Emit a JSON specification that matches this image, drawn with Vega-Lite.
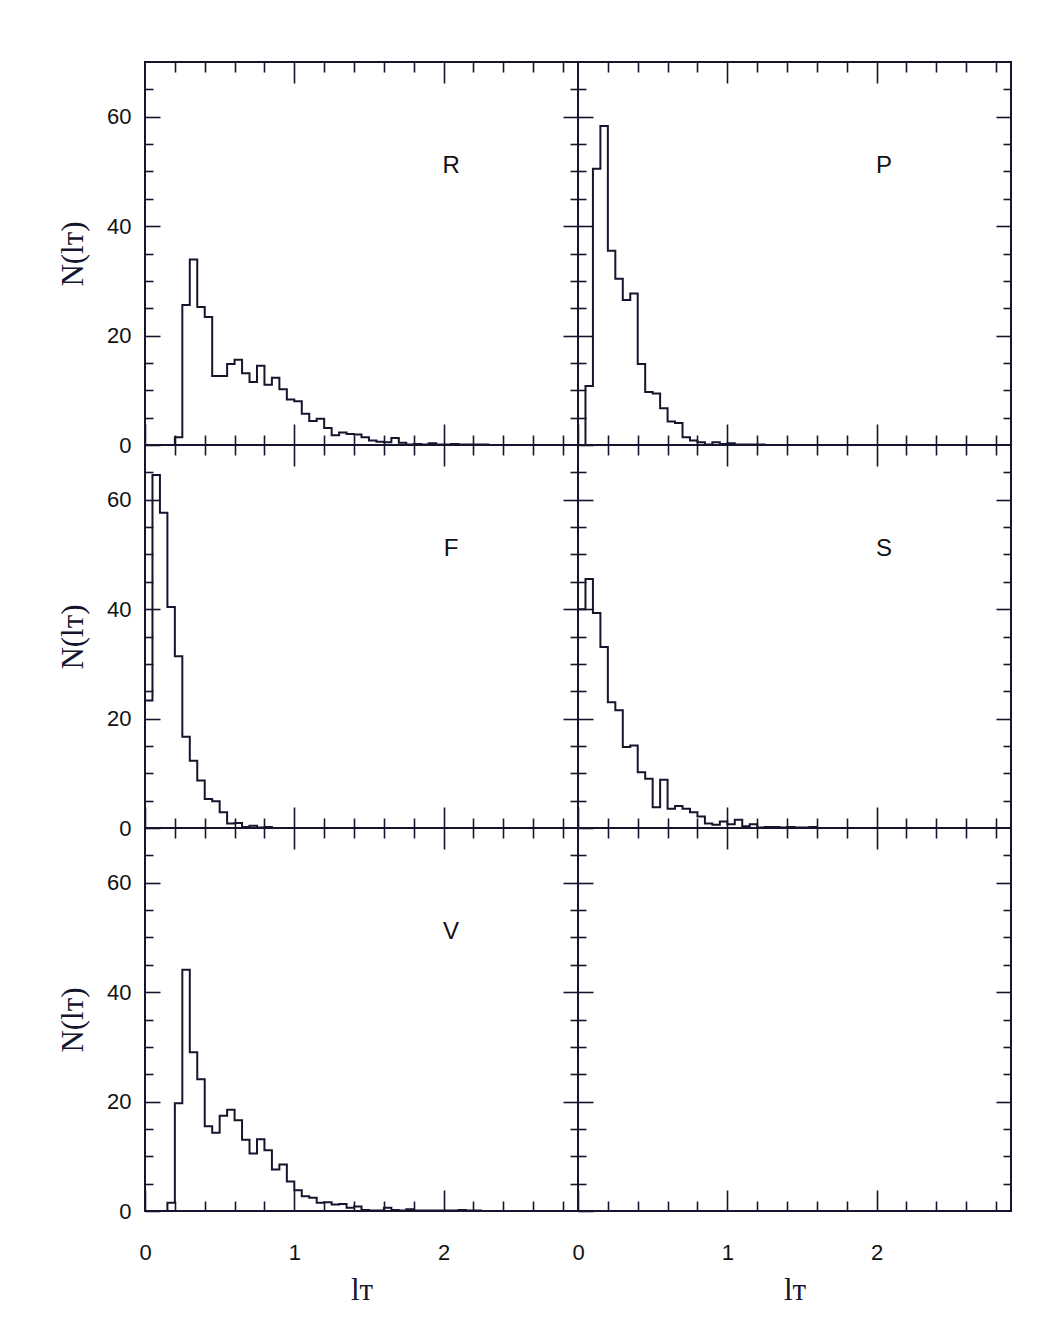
{
  "$schema": "https://vega.github.io/schema/vega-lite/v6.json",
  "background": "white",
  "padding": {"left": 56, "top": 60, "right": 30, "bottom": 30},
  "autosize": {"type": "pad"},
  "datasets": {
    "hist": [
      {"panel": "R", "x": 0.15, "n": 0}, {"panel": "R", "x": 0.2, "n": 1.4}, {"panel": "R", "x": 0.25, "n": 25.6}, {"panel": "R", "x": 0.3, "n": 33.9},
      {"panel": "R", "x": 0.35, "n": 25.2}, {"panel": "R", "x": 0.4, "n": 23.4}, {"panel": "R", "x": 0.45, "n": 12.6}, {"panel": "R", "x": 0.5, "n": 12.6},
      {"panel": "R", "x": 0.55, "n": 14.8}, {"panel": "R", "x": 0.6, "n": 15.6}, {"panel": "R", "x": 0.65, "n": 13.1}, {"panel": "R", "x": 0.7, "n": 11.5},
      {"panel": "R", "x": 0.75, "n": 14.5}, {"panel": "R", "x": 0.8, "n": 11.0}, {"panel": "R", "x": 0.85, "n": 12.3}, {"panel": "R", "x": 0.9, "n": 10.2},
      {"panel": "R", "x": 0.95, "n": 8.3}, {"panel": "R", "x": 1.0, "n": 8.0}, {"panel": "R", "x": 1.05, "n": 5.7}, {"panel": "R", "x": 1.1, "n": 4.4},
      {"panel": "R", "x": 1.15, "n": 4.8}, {"panel": "R", "x": 1.2, "n": 3.1}, {"panel": "R", "x": 1.25, "n": 1.8}, {"panel": "R", "x": 1.3, "n": 2.3},
      {"panel": "R", "x": 1.35, "n": 2.0}, {"panel": "R", "x": 1.4, "n": 1.9}, {"panel": "R", "x": 1.45, "n": 1.4}, {"panel": "R", "x": 1.5, "n": 0.8},
      {"panel": "R", "x": 1.55, "n": 0.6}, {"panel": "R", "x": 1.6, "n": 0.5}, {"panel": "R", "x": 1.65, "n": 1.3}, {"panel": "R", "x": 1.7, "n": 0.4},
      {"panel": "R", "x": 1.75, "n": 0.1}, {"panel": "R", "x": 1.8, "n": 0.2}, {"panel": "R", "x": 1.85, "n": 0.1}, {"panel": "R", "x": 1.9, "n": 0.3},
      {"panel": "R", "x": 1.95, "n": 0.1}, {"panel": "R", "x": 2.0, "n": 0.1}, {"panel": "R", "x": 2.05, "n": 0.2}, {"panel": "R", "x": 2.1, "n": 0.1},
      {"panel": "R", "x": 2.15, "n": 0.1}, {"panel": "R", "x": 2.2, "n": 0.1}, {"panel": "R", "x": 2.25, "n": 0.1}, {"panel": "R", "x": 2.3, "n": 0},

      {"panel": "P", "x": 0.0, "n": 0}, {"panel": "P", "x": 0.05, "n": 10.8}, {"panel": "P", "x": 0.1, "n": 50.5}, {"panel": "P", "x": 0.15, "n": 58.3},
      {"panel": "P", "x": 0.2, "n": 35.5}, {"panel": "P", "x": 0.25, "n": 30.4}, {"panel": "P", "x": 0.3, "n": 26.5}, {"panel": "P", "x": 0.35, "n": 27.7},
      {"panel": "P", "x": 0.4, "n": 14.8}, {"panel": "P", "x": 0.45, "n": 9.7}, {"panel": "P", "x": 0.5, "n": 9.4}, {"panel": "P", "x": 0.55, "n": 6.7},
      {"panel": "P", "x": 0.6, "n": 4.3}, {"panel": "P", "x": 0.65, "n": 4.0}, {"panel": "P", "x": 0.7, "n": 1.4}, {"panel": "P", "x": 0.75, "n": 0.8},
      {"panel": "P", "x": 0.8, "n": 0.5}, {"panel": "P", "x": 0.85, "n": 0.1}, {"panel": "P", "x": 0.9, "n": 0.5}, {"panel": "P", "x": 0.95, "n": 0.2},
      {"panel": "P", "x": 1.0, "n": 0.3}, {"panel": "P", "x": 1.05, "n": 0.1}, {"panel": "P", "x": 1.1, "n": 0.1}, {"panel": "P", "x": 1.15, "n": 0.1},
      {"panel": "P", "x": 1.2, "n": 0.1}, {"panel": "P", "x": 1.25, "n": 0},

      {"panel": "F", "x": 0.0, "n": 23.3}, {"panel": "F", "x": 0.05, "n": 64.5}, {"panel": "F", "x": 0.1, "n": 57.6}, {"panel": "F", "x": 0.15, "n": 40.4},
      {"panel": "F", "x": 0.2, "n": 31.4}, {"panel": "F", "x": 0.25, "n": 16.7}, {"panel": "F", "x": 0.3, "n": 12.3}, {"panel": "F", "x": 0.35, "n": 8.7},
      {"panel": "F", "x": 0.4, "n": 5.3}, {"panel": "F", "x": 0.45, "n": 4.9}, {"panel": "F", "x": 0.5, "n": 2.9}, {"panel": "F", "x": 0.55, "n": 0.8},
      {"panel": "F", "x": 0.6, "n": 0.9}, {"panel": "F", "x": 0.65, "n": 0.2}, {"panel": "F", "x": 0.7, "n": 0.4}, {"panel": "F", "x": 0.75, "n": 0.1},
      {"panel": "F", "x": 0.8, "n": 0.2}, {"panel": "F", "x": 0.85, "n": 0},

      {"panel": "S", "x": 0.0, "n": 40.0}, {"panel": "S", "x": 0.05, "n": 45.5}, {"panel": "S", "x": 0.1, "n": 39.3}, {"panel": "S", "x": 0.15, "n": 33.1},
      {"panel": "S", "x": 0.2, "n": 23.0}, {"panel": "S", "x": 0.25, "n": 21.5}, {"panel": "S", "x": 0.3, "n": 14.8}, {"panel": "S", "x": 0.35, "n": 15.1},
      {"panel": "S", "x": 0.4, "n": 10.2}, {"panel": "S", "x": 0.45, "n": 9.0}, {"panel": "S", "x": 0.5, "n": 3.8}, {"panel": "S", "x": 0.55, "n": 8.8},
      {"panel": "S", "x": 0.6, "n": 3.5}, {"panel": "S", "x": 0.65, "n": 4.0}, {"panel": "S", "x": 0.7, "n": 3.5}, {"panel": "S", "x": 0.75, "n": 2.9},
      {"panel": "S", "x": 0.8, "n": 2.1}, {"panel": "S", "x": 0.85, "n": 0.8}, {"panel": "S", "x": 0.9, "n": 0.6}, {"panel": "S", "x": 0.95, "n": 1.2},
      {"panel": "S", "x": 1.0, "n": 0.7}, {"panel": "S", "x": 1.05, "n": 1.5}, {"panel": "S", "x": 1.1, "n": 0.3}, {"panel": "S", "x": 1.15, "n": 0.7},
      {"panel": "S", "x": 1.2, "n": 0.1}, {"panel": "S", "x": 1.25, "n": 0.2}, {"panel": "S", "x": 1.3, "n": 0.2}, {"panel": "S", "x": 1.35, "n": 0.1},
      {"panel": "S", "x": 1.4, "n": 0.2}, {"panel": "S", "x": 1.45, "n": 0.1}, {"panel": "S", "x": 1.5, "n": 0.1}, {"panel": "S", "x": 1.55, "n": 0.2},
      {"panel": "S", "x": 1.6, "n": 0},

      {"panel": "V", "x": 0.1, "n": 0}, {"panel": "V", "x": 0.15, "n": 1.5}, {"panel": "V", "x": 0.2, "n": 19.7}, {"panel": "V", "x": 0.25, "n": 44.1},
      {"panel": "V", "x": 0.3, "n": 29.0}, {"panel": "V", "x": 0.35, "n": 24.1}, {"panel": "V", "x": 0.4, "n": 15.5}, {"panel": "V", "x": 0.45, "n": 14.3},
      {"panel": "V", "x": 0.5, "n": 17.4}, {"panel": "V", "x": 0.55, "n": 18.5}, {"panel": "V", "x": 0.6, "n": 16.6}, {"panel": "V", "x": 0.65, "n": 13.0},
      {"panel": "V", "x": 0.7, "n": 10.5}, {"panel": "V", "x": 0.75, "n": 13.1}, {"panel": "V", "x": 0.8, "n": 11.1}, {"panel": "V", "x": 0.85, "n": 7.6},
      {"panel": "V", "x": 0.9, "n": 8.5}, {"panel": "V", "x": 0.95, "n": 5.4}, {"panel": "V", "x": 1.0, "n": 3.8}, {"panel": "V", "x": 1.05, "n": 2.7},
      {"panel": "V", "x": 1.1, "n": 2.4}, {"panel": "V", "x": 1.15, "n": 1.5}, {"panel": "V", "x": 1.2, "n": 1.6}, {"panel": "V", "x": 1.25, "n": 1.2},
      {"panel": "V", "x": 1.3, "n": 1.3}, {"panel": "V", "x": 1.35, "n": 0.6}, {"panel": "V", "x": 1.4, "n": 0.8}, {"panel": "V", "x": 1.45, "n": 0.2},
      {"panel": "V", "x": 1.5, "n": 0.1}, {"panel": "V", "x": 1.55, "n": 0.1}, {"panel": "V", "x": 1.6, "n": 0.6}, {"panel": "V", "x": 1.65, "n": 0.2},
      {"panel": "V", "x": 1.7, "n": 0.1}, {"panel": "V", "x": 1.75, "n": 0.3}, {"panel": "V", "x": 1.8, "n": 0.1}, {"panel": "V", "x": 1.85, "n": 0.1},
      {"panel": "V", "x": 1.9, "n": 0.1}, {"panel": "V", "x": 1.95, "n": 0.1}, {"panel": "V", "x": 2.0, "n": 0.1}, {"panel": "V", "x": 2.05, "n": 0.1},
      {"panel": "V", "x": 2.1, "n": 0.2}, {"panel": "V", "x": 2.15, "n": 0.1}, {"panel": "V", "x": 2.2, "n": 0.1}, {"panel": "V", "x": 2.25, "n": 0}
    ],
    "names": [{"panel": "R"}, {"panel": "P"}, {"panel": "F"}, {"panel": "S"}, {"panel": "V"}]
  },
  "config": {
    "view": {"stroke": "#15152e", "strokeWidth": 2},
    "axis": {"grid": false, "domain": false, "tickColor": "#15152e", "tickWidth": 1.6, "labelFlush": false, "labelOverlap": false,
      "labelFont": "Liberation Sans", "labelFontSize": 22, "labelColor": "#111111",
      "titleFont": "Liberation Serif", "titleFontSize": 31, "titleFontWeight": "normal", "titleColor": "#15152e"},
    "text": {"font": "Liberation Sans", "fontSize": 24, "color": "#111111"}
  },
  "columns": 2,
  "spacing": 0,
  "bounds": "flush",
  "concat": [
      {"width": 433, "height": 383, "resolve": {"axis": {"x": "independent", "y": "independent"}}, "layer": [
        {"data": {"name": "hist"}, "transform": [{"filter": "datum.panel === 'R'"}], "mark": {"type": "line", "interpolate": "step-after", "color": "#15152e", "strokeWidth": 2},
         "encoding": {"x": {"field": "x", "type": "quantitative", "scale": {"domain": [0, 2.9], "nice": false, "zero": false}, "axis": {"orient": "bottom", "values": [0, 1, 2], "tickSize": -21, "labels": false, "title": null}},
                      "y": {"field": "n", "type": "quantitative", "scale": {"domain": [0, 70], "nice": false, "zero": false}, "axis": {"orient": "left", "values": [0, 20, 40, 60], "tickSize": -15, "labelPadding": 29, "title": "N(lᴛ)", "titlePadding": 17}}}},
        {"data": {"name": "hist"}, "transform": [{"filter": "datum.panel === 'R'"}], "mark": {"type": "point", "opacity": 0},
         "encoding": {"x": {"field": "x", "type": "quantitative", "scale": {"domain": [0, 2.9], "nice": false, "zero": false}, "axis": {"orient": "bottom", "values": [0.2, 0.4, 0.6, 0.8, 1.2, 1.4, 1.6, 1.8, 2.2, 2.4, 2.6, 2.8], "tickSize": -10, "labels": false, "title": null}},
                      "y": {"field": "n", "type": "quantitative", "scale": {"domain": [0, 70], "nice": false, "zero": false}, "axis": {"orient": "left", "values": [5, 10, 15, 25, 30, 35, 45, 50, 55, 65], "tickSize": -8, "labels": false, "title": null}}}},
        {"data": {"name": "hist"}, "transform": [{"filter": "datum.panel === 'R'"}], "mark": {"type": "point", "opacity": 0},
         "encoding": {"x": {"field": "x", "type": "quantitative", "scale": {"domain": [0, 2.9], "nice": false, "zero": false}, "axis": {"orient": "top", "values": [1, 2], "tickSize": -21, "labels": false, "title": null}},
                      "y": {"field": "n", "type": "quantitative", "scale": {"domain": [0, 70], "nice": false, "zero": false}, "axis": {"orient": "right", "values": [20, 40, 60], "tickSize": -15, "labels": false, "title": null}}}},
        {"data": {"name": "hist"}, "transform": [{"filter": "datum.panel === 'R'"}], "mark": {"type": "point", "opacity": 0},
         "encoding": {"x": {"field": "x", "type": "quantitative", "scale": {"domain": [0, 2.9], "nice": false, "zero": false}, "axis": {"orient": "top", "values": [0.2, 0.4, 0.6, 0.8, 1.2, 1.4, 1.6, 1.8, 2.2, 2.4, 2.6, 2.8], "tickSize": -10, "labels": false, "title": null}},
                      "y": {"field": "n", "type": "quantitative", "scale": {"domain": [0, 70], "nice": false, "zero": false}, "axis": {"orient": "right", "values": [5, 10, 15, 25, 30, 35, 45, 50, 55, 65], "tickSize": -8, "labels": false, "title": null}}}},
        {"data": {"name": "names"}, "transform": [{"filter": "datum.panel === 'R'"}], "mark": {"type": "text", "align": "center", "baseline": "middle"},
         "encoding": {"x": {"datum": 2.05, "type": "quantitative", "scale": {"domain": [0, 2.9], "nice": false, "zero": false}, "axis": null},
                      "y": {"datum": 51, "type": "quantitative", "scale": {"domain": [0, 70], "nice": false, "zero": false}, "axis": null},
                      "text": {"field": "panel"}}}
      ]},
      {"width": 433, "height": 383, "resolve": {"axis": {"x": "independent", "y": "independent"}}, "layer": [
        {"data": {"name": "hist"}, "transform": [{"filter": "datum.panel === 'P'"}], "mark": {"type": "line", "interpolate": "step-after", "color": "#15152e", "strokeWidth": 2},
         "encoding": {"x": {"field": "x", "type": "quantitative", "scale": {"domain": [0, 2.9], "nice": false, "zero": false}, "axis": {"orient": "bottom", "values": [0, 1, 2], "tickSize": -21, "labels": false, "title": null}},
                      "y": {"field": "n", "type": "quantitative", "scale": {"domain": [0, 70], "nice": false, "zero": false}, "axis": {"orient": "left", "values": [0, 20, 40, 60], "tickSize": -15, "labels": false, "title": null}}}},
        {"data": {"name": "hist"}, "transform": [{"filter": "datum.panel === 'P'"}], "mark": {"type": "point", "opacity": 0},
         "encoding": {"x": {"field": "x", "type": "quantitative", "scale": {"domain": [0, 2.9], "nice": false, "zero": false}, "axis": {"orient": "bottom", "values": [0.2, 0.4, 0.6, 0.8, 1.2, 1.4, 1.6, 1.8, 2.2, 2.4, 2.6, 2.8], "tickSize": -10, "labels": false, "title": null}},
                      "y": {"field": "n", "type": "quantitative", "scale": {"domain": [0, 70], "nice": false, "zero": false}, "axis": {"orient": "left", "values": [5, 10, 15, 25, 30, 35, 45, 50, 55, 65], "tickSize": -8, "labels": false, "title": null}}}},
        {"data": {"name": "hist"}, "transform": [{"filter": "datum.panel === 'P'"}], "mark": {"type": "point", "opacity": 0},
         "encoding": {"x": {"field": "x", "type": "quantitative", "scale": {"domain": [0, 2.9], "nice": false, "zero": false}, "axis": {"orient": "top", "values": [1, 2], "tickSize": -21, "labels": false, "title": null}},
                      "y": {"field": "n", "type": "quantitative", "scale": {"domain": [0, 70], "nice": false, "zero": false}, "axis": {"orient": "right", "values": [20, 40, 60], "tickSize": -15, "labels": false, "title": null}}}},
        {"data": {"name": "hist"}, "transform": [{"filter": "datum.panel === 'P'"}], "mark": {"type": "point", "opacity": 0},
         "encoding": {"x": {"field": "x", "type": "quantitative", "scale": {"domain": [0, 2.9], "nice": false, "zero": false}, "axis": {"orient": "top", "values": [0.2, 0.4, 0.6, 0.8, 1.2, 1.4, 1.6, 1.8, 2.2, 2.4, 2.6, 2.8], "tickSize": -10, "labels": false, "title": null}},
                      "y": {"field": "n", "type": "quantitative", "scale": {"domain": [0, 70], "nice": false, "zero": false}, "axis": {"orient": "right", "values": [5, 10, 15, 25, 30, 35, 45, 50, 55, 65], "tickSize": -8, "labels": false, "title": null}}}},
        {"data": {"name": "names"}, "transform": [{"filter": "datum.panel === 'P'"}], "mark": {"type": "text", "align": "center", "baseline": "middle"},
         "encoding": {"x": {"datum": 2.05, "type": "quantitative", "scale": {"domain": [0, 2.9], "nice": false, "zero": false}, "axis": null},
                      "y": {"datum": 51, "type": "quantitative", "scale": {"domain": [0, 70], "nice": false, "zero": false}, "axis": null},
                      "text": {"field": "panel"}}}
      ]},
      {"width": 433, "height": 383, "resolve": {"axis": {"x": "independent", "y": "independent"}}, "layer": [
        {"data": {"name": "hist"}, "transform": [{"filter": "datum.panel === 'F'"}], "mark": {"type": "line", "interpolate": "step-after", "color": "#15152e", "strokeWidth": 2},
         "encoding": {"x": {"field": "x", "type": "quantitative", "scale": {"domain": [0, 2.9], "nice": false, "zero": false}, "axis": {"orient": "bottom", "values": [0, 1, 2], "tickSize": -21, "labels": false, "title": null}},
                      "y": {"field": "n", "type": "quantitative", "scale": {"domain": [0, 70], "nice": false, "zero": false}, "axis": {"orient": "left", "values": [0, 20, 40, 60], "tickSize": -15, "labelPadding": 29, "title": "N(lᴛ)", "titlePadding": 17}}}},
        {"data": {"name": "hist"}, "transform": [{"filter": "datum.panel === 'F'"}], "mark": {"type": "point", "opacity": 0},
         "encoding": {"x": {"field": "x", "type": "quantitative", "scale": {"domain": [0, 2.9], "nice": false, "zero": false}, "axis": {"orient": "bottom", "values": [0.2, 0.4, 0.6, 0.8, 1.2, 1.4, 1.6, 1.8, 2.2, 2.4, 2.6, 2.8], "tickSize": -10, "labels": false, "title": null}},
                      "y": {"field": "n", "type": "quantitative", "scale": {"domain": [0, 70], "nice": false, "zero": false}, "axis": {"orient": "left", "values": [5, 10, 15, 25, 30, 35, 45, 50, 55, 65], "tickSize": -8, "labels": false, "title": null}}}},
        {"data": {"name": "hist"}, "transform": [{"filter": "datum.panel === 'F'"}], "mark": {"type": "point", "opacity": 0},
         "encoding": {"x": {"field": "x", "type": "quantitative", "scale": {"domain": [0, 2.9], "nice": false, "zero": false}, "axis": {"orient": "top", "values": [1, 2], "tickSize": -21, "labels": false, "title": null}},
                      "y": {"field": "n", "type": "quantitative", "scale": {"domain": [0, 70], "nice": false, "zero": false}, "axis": {"orient": "right", "values": [20, 40, 60], "tickSize": -15, "labels": false, "title": null}}}},
        {"data": {"name": "hist"}, "transform": [{"filter": "datum.panel === 'F'"}], "mark": {"type": "point", "opacity": 0},
         "encoding": {"x": {"field": "x", "type": "quantitative", "scale": {"domain": [0, 2.9], "nice": false, "zero": false}, "axis": {"orient": "top", "values": [0.2, 0.4, 0.6, 0.8, 1.2, 1.4, 1.6, 1.8, 2.2, 2.4, 2.6, 2.8], "tickSize": -10, "labels": false, "title": null}},
                      "y": {"field": "n", "type": "quantitative", "scale": {"domain": [0, 70], "nice": false, "zero": false}, "axis": {"orient": "right", "values": [5, 10, 15, 25, 30, 35, 45, 50, 55, 65], "tickSize": -8, "labels": false, "title": null}}}},
        {"data": {"name": "names"}, "transform": [{"filter": "datum.panel === 'F'"}], "mark": {"type": "text", "align": "center", "baseline": "middle"},
         "encoding": {"x": {"datum": 2.05, "type": "quantitative", "scale": {"domain": [0, 2.9], "nice": false, "zero": false}, "axis": null},
                      "y": {"datum": 51, "type": "quantitative", "scale": {"domain": [0, 70], "nice": false, "zero": false}, "axis": null},
                      "text": {"field": "panel"}}}
      ]},
      {"width": 433, "height": 383, "resolve": {"axis": {"x": "independent", "y": "independent"}}, "layer": [
        {"data": {"name": "hist"}, "transform": [{"filter": "datum.panel === 'S'"}], "mark": {"type": "line", "interpolate": "step-after", "color": "#15152e", "strokeWidth": 2},
         "encoding": {"x": {"field": "x", "type": "quantitative", "scale": {"domain": [0, 2.9], "nice": false, "zero": false}, "axis": {"orient": "bottom", "values": [0, 1, 2], "tickSize": -21, "labels": false, "title": null}},
                      "y": {"field": "n", "type": "quantitative", "scale": {"domain": [0, 70], "nice": false, "zero": false}, "axis": {"orient": "left", "values": [0, 20, 40, 60], "tickSize": -15, "labels": false, "title": null}}}},
        {"data": {"name": "hist"}, "transform": [{"filter": "datum.panel === 'S'"}], "mark": {"type": "point", "opacity": 0},
         "encoding": {"x": {"field": "x", "type": "quantitative", "scale": {"domain": [0, 2.9], "nice": false, "zero": false}, "axis": {"orient": "bottom", "values": [0.2, 0.4, 0.6, 0.8, 1.2, 1.4, 1.6, 1.8, 2.2, 2.4, 2.6, 2.8], "tickSize": -10, "labels": false, "title": null}},
                      "y": {"field": "n", "type": "quantitative", "scale": {"domain": [0, 70], "nice": false, "zero": false}, "axis": {"orient": "left", "values": [5, 10, 15, 25, 30, 35, 45, 50, 55, 65], "tickSize": -8, "labels": false, "title": null}}}},
        {"data": {"name": "hist"}, "transform": [{"filter": "datum.panel === 'S'"}], "mark": {"type": "point", "opacity": 0},
         "encoding": {"x": {"field": "x", "type": "quantitative", "scale": {"domain": [0, 2.9], "nice": false, "zero": false}, "axis": {"orient": "top", "values": [1, 2], "tickSize": -21, "labels": false, "title": null}},
                      "y": {"field": "n", "type": "quantitative", "scale": {"domain": [0, 70], "nice": false, "zero": false}, "axis": {"orient": "right", "values": [20, 40, 60], "tickSize": -15, "labels": false, "title": null}}}},
        {"data": {"name": "hist"}, "transform": [{"filter": "datum.panel === 'S'"}], "mark": {"type": "point", "opacity": 0},
         "encoding": {"x": {"field": "x", "type": "quantitative", "scale": {"domain": [0, 2.9], "nice": false, "zero": false}, "axis": {"orient": "top", "values": [0.2, 0.4, 0.6, 0.8, 1.2, 1.4, 1.6, 1.8, 2.2, 2.4, 2.6, 2.8], "tickSize": -10, "labels": false, "title": null}},
                      "y": {"field": "n", "type": "quantitative", "scale": {"domain": [0, 70], "nice": false, "zero": false}, "axis": {"orient": "right", "values": [5, 10, 15, 25, 30, 35, 45, 50, 55, 65], "tickSize": -8, "labels": false, "title": null}}}},
        {"data": {"name": "names"}, "transform": [{"filter": "datum.panel === 'S'"}], "mark": {"type": "text", "align": "center", "baseline": "middle"},
         "encoding": {"x": {"datum": 2.05, "type": "quantitative", "scale": {"domain": [0, 2.9], "nice": false, "zero": false}, "axis": null},
                      "y": {"datum": 51, "type": "quantitative", "scale": {"domain": [0, 70], "nice": false, "zero": false}, "axis": null},
                      "text": {"field": "panel"}}}
      ]},
      {"width": 433, "height": 383, "resolve": {"axis": {"x": "independent", "y": "independent"}}, "layer": [
        {"data": {"name": "hist"}, "transform": [{"filter": "datum.panel === 'V'"}], "mark": {"type": "line", "interpolate": "step-after", "color": "#15152e", "strokeWidth": 2},
         "encoding": {"x": {"field": "x", "type": "quantitative", "scale": {"domain": [0, 2.9], "nice": false, "zero": false}, "axis": {"orient": "bottom", "values": [0, 1, 2], "tickSize": -21, "labelPadding": 52, "title": "lᴛ", "titlePadding": 12}},
                      "y": {"field": "n", "type": "quantitative", "scale": {"domain": [0, 70], "nice": false, "zero": false}, "axis": {"orient": "left", "values": [0, 20, 40, 60], "tickSize": -15, "labelPadding": 29, "title": "N(lᴛ)", "titlePadding": 17}}}},
        {"data": {"name": "hist"}, "transform": [{"filter": "datum.panel === 'V'"}], "mark": {"type": "point", "opacity": 0},
         "encoding": {"x": {"field": "x", "type": "quantitative", "scale": {"domain": [0, 2.9], "nice": false, "zero": false}, "axis": {"orient": "bottom", "values": [0.2, 0.4, 0.6, 0.8, 1.2, 1.4, 1.6, 1.8, 2.2, 2.4, 2.6, 2.8], "tickSize": -10, "labels": false, "title": null}},
                      "y": {"field": "n", "type": "quantitative", "scale": {"domain": [0, 70], "nice": false, "zero": false}, "axis": {"orient": "left", "values": [5, 10, 15, 25, 30, 35, 45, 50, 55, 65], "tickSize": -8, "labels": false, "title": null}}}},
        {"data": {"name": "hist"}, "transform": [{"filter": "datum.panel === 'V'"}], "mark": {"type": "point", "opacity": 0},
         "encoding": {"x": {"field": "x", "type": "quantitative", "scale": {"domain": [0, 2.9], "nice": false, "zero": false}, "axis": {"orient": "top", "values": [1, 2], "tickSize": -21, "labels": false, "title": null}},
                      "y": {"field": "n", "type": "quantitative", "scale": {"domain": [0, 70], "nice": false, "zero": false}, "axis": {"orient": "right", "values": [20, 40, 60], "tickSize": -15, "labels": false, "title": null}}}},
        {"data": {"name": "hist"}, "transform": [{"filter": "datum.panel === 'V'"}], "mark": {"type": "point", "opacity": 0},
         "encoding": {"x": {"field": "x", "type": "quantitative", "scale": {"domain": [0, 2.9], "nice": false, "zero": false}, "axis": {"orient": "top", "values": [0.2, 0.4, 0.6, 0.8, 1.2, 1.4, 1.6, 1.8, 2.2, 2.4, 2.6, 2.8], "tickSize": -10, "labels": false, "title": null}},
                      "y": {"field": "n", "type": "quantitative", "scale": {"domain": [0, 70], "nice": false, "zero": false}, "axis": {"orient": "right", "values": [5, 10, 15, 25, 30, 35, 45, 50, 55, 65], "tickSize": -8, "labels": false, "title": null}}}},
        {"data": {"name": "names"}, "transform": [{"filter": "datum.panel === 'V'"}], "mark": {"type": "text", "align": "center", "baseline": "middle"},
         "encoding": {"x": {"datum": 2.05, "type": "quantitative", "scale": {"domain": [0, 2.9], "nice": false, "zero": false}, "axis": null},
                      "y": {"datum": 51, "type": "quantitative", "scale": {"domain": [0, 70], "nice": false, "zero": false}, "axis": null},
                      "text": {"field": "panel"}}}
      ]},
      {"width": 433, "height": 383, "resolve": {"axis": {"x": "independent", "y": "independent"}}, "layer": [
        {"data": {"name": "hist"}, "transform": [{"filter": "datum.panel === 'V'"}], "mark": {"type": "point", "opacity": 0},
         "encoding": {"x": {"field": "x", "type": "quantitative", "scale": {"domain": [0, 2.9], "nice": false, "zero": false}, "axis": {"orient": "bottom", "values": [0, 1, 2], "tickSize": -21, "labelPadding": 52, "title": "lᴛ", "titlePadding": 12}},
                      "y": {"field": "n", "type": "quantitative", "scale": {"domain": [0, 70], "nice": false, "zero": false}, "axis": {"orient": "left", "values": [0, 20, 40, 60], "tickSize": -15, "labels": false, "title": null}}}},
        {"data": {"name": "hist"}, "transform": [{"filter": "datum.panel === 'V'"}], "mark": {"type": "point", "opacity": 0},
         "encoding": {"x": {"field": "x", "type": "quantitative", "scale": {"domain": [0, 2.9], "nice": false, "zero": false}, "axis": {"orient": "bottom", "values": [0.2, 0.4, 0.6, 0.8, 1.2, 1.4, 1.6, 1.8, 2.2, 2.4, 2.6, 2.8], "tickSize": -10, "labels": false, "title": null}},
                      "y": {"field": "n", "type": "quantitative", "scale": {"domain": [0, 70], "nice": false, "zero": false}, "axis": {"orient": "left", "values": [5, 10, 15, 25, 30, 35, 45, 50, 55, 65], "tickSize": -8, "labels": false, "title": null}}}},
        {"data": {"name": "hist"}, "transform": [{"filter": "datum.panel === 'V'"}], "mark": {"type": "point", "opacity": 0},
         "encoding": {"x": {"field": "x", "type": "quantitative", "scale": {"domain": [0, 2.9], "nice": false, "zero": false}, "axis": {"orient": "top", "values": [1, 2], "tickSize": -21, "labels": false, "title": null}},
                      "y": {"field": "n", "type": "quantitative", "scale": {"domain": [0, 70], "nice": false, "zero": false}, "axis": {"orient": "right", "values": [20, 40, 60], "tickSize": -15, "labels": false, "title": null}}}},
        {"data": {"name": "hist"}, "transform": [{"filter": "datum.panel === 'V'"}], "mark": {"type": "point", "opacity": 0},
         "encoding": {"x": {"field": "x", "type": "quantitative", "scale": {"domain": [0, 2.9], "nice": false, "zero": false}, "axis": {"orient": "top", "values": [0.2, 0.4, 0.6, 0.8, 1.2, 1.4, 1.6, 1.8, 2.2, 2.4, 2.6, 2.8], "tickSize": -10, "labels": false, "title": null}},
                      "y": {"field": "n", "type": "quantitative", "scale": {"domain": [0, 70], "nice": false, "zero": false}, "axis": {"orient": "right", "values": [5, 10, 15, 25, 30, 35, 45, 50, 55, 65], "tickSize": -8, "labels": false, "title": null}}}}
      ]}
  ]
}
